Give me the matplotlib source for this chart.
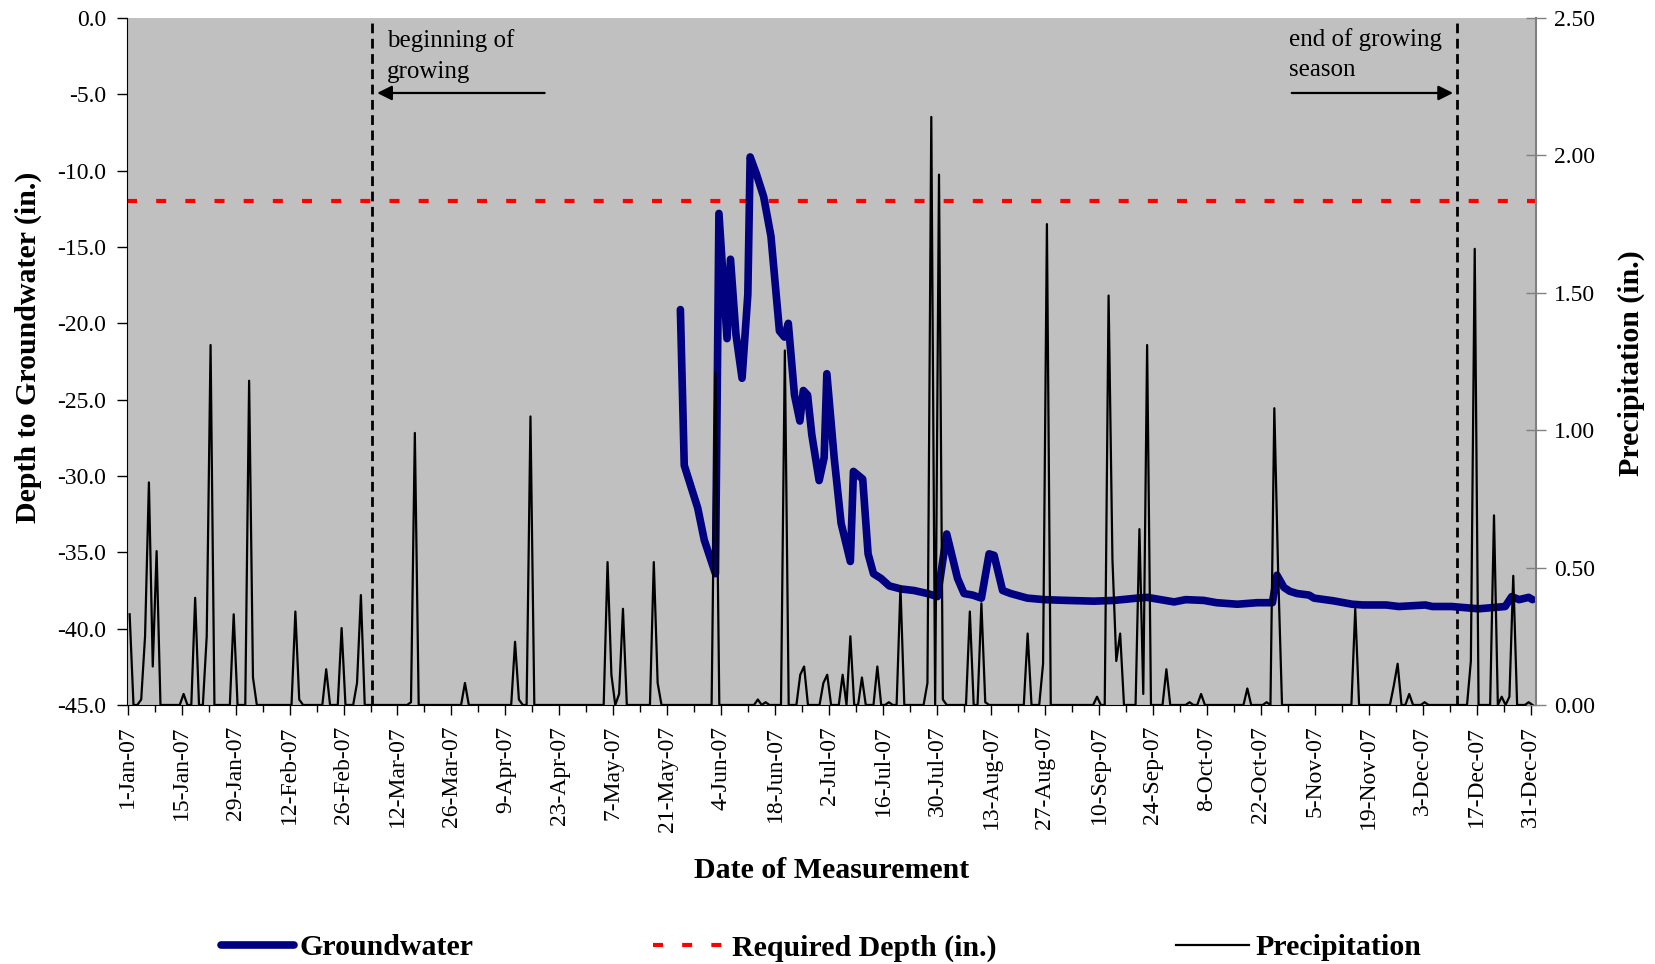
import matplotlib
matplotlib.use("Agg")
import matplotlib.pyplot as plt
from matplotlib.patches import Rectangle
import numpy as np

plt.rcParams['font.family'] = ['Liberation Serif', 'DejaVu Serif']
plt.rcParams['axes.unicode_minus'] = False

# day of year (0 = 1-Jan-07) and rainfall (in.) on days with rain
rain_day = [0, 3, 4, 5, 6, 7, 14, 17, 20, 21, 27, 31, 32, 43, 44, 51, 55, 59, 60,
            73, 74, 87, 100, 101, 104, 124, 125, 127, 128, 136, 137, 152, 163, 165,
            170, 174, 175, 180, 181, 185, 187, 190, 194, 197, 200, 207, 208, 210,
            211, 218, 221, 222, 233, 237, 238, 251, 254, 255, 256, 257, 262, 263,
            264, 269, 275, 278, 290, 295, 297, 298, 318, 328, 329, 332, 336, 348,
            349, 354, 356, 358, 359, 363]
rain_in = [0.33, 0.02, 0.25, 0.81, 0.14, 0.56, 0.04, 0.39, 0.25, 1.31, 0.33, 1.18, 0.10,
           0.34, 0.02, 0.13, 0.28, 0.08, 0.40,
           0.01, 0.99, 0.08, 0.23, 0.02, 1.05, 0.52, 0.11, 0.04, 0.35, 0.52, 0.08,
           1.21, 0.02, 0.01,
           1.29, 0.11, 0.14, 0.08, 0.11, 0.11, 0.25, 0.10, 0.14, 0.01, 0.43, 0.08,
           2.14, 1.93,
           0.02, 0.34, 0.37, 0.01, 0.26, 0.15, 1.75, 0.03, 1.49, 0.53, 0.16, 0.26,
           0.64, 0.04,
           1.31, 0.13, 0.01, 0.04, 0.06, 0.01, 1.08, 0.48, 0.35, 0.07, 0.15, 0.04,
           0.01, 0.16,
           1.66, 0.69, 0.03, 0.03, 0.47, 0.01]

# groundwater readings: day of year and depth (in.)
gw_day = [142.9, 143.9, 147.4, 149.1, 152.0, 152.9, 155.0, 155.9, 157.3, 158.9,
          160.4, 161.0, 162.6, 164.5, 166.4, 168.6, 169.9, 170.9, 172.5, 173.9,
          174.8, 175.9, 177.0, 178.9, 180.2, 180.9, 182.8, 184.6, 187.0, 187.8,
          190.2, 191.6, 193.0, 194.9, 197.1, 200.1, 203.5, 207.0, 209.6, 212.0,
          214.8, 216.5, 218.7, 221.0, 223.0, 224.3, 226.5, 228.6, 232.9, 237.3,
          243.0, 250.2, 255.4, 261.5, 264.0, 271.0, 274.0, 278.7, 282.0, 287.4,
          292.6, 296.5, 297.7, 299.5, 301.0, 302.9, 306.0, 307.3, 312.4, 317.2,
          320.0, 326.0, 329.3, 336.2, 338.0, 343.0, 350.0, 356.9, 358.6, 360.5,
          363.0, 364.0]
gw_depth = [-19.1, -29.3, -32.1, -34.2, -36.4, -12.8, -21.0, -15.8, -20.7, -23.6,
            -18.1, -9.1, -10.2, -11.7, -14.3, -20.5, -20.9, -20.0, -24.7, -26.4,
            -24.4, -24.7, -27.3, -30.3, -28.8, -23.3, -28.8, -33.1, -35.6, -29.7,
            -30.2, -35.1, -36.4, -36.7, -37.2, -37.4, -37.5, -37.7, -37.9, -33.8,
            -36.7, -37.7, -37.8, -38.0, -35.1, -35.2, -37.5, -37.7, -38.0, -38.1,
            -38.15, -38.2, -38.15, -38.0, -37.95, -38.25, -38.1, -38.15, -38.3, -38.4,
            -38.3, -38.3, -36.5, -37.3, -37.55, -37.7, -37.8, -38.0, -38.18, -38.4,
            -38.45, -38.45, -38.55, -38.45, -38.55, -38.55, -38.7, -38.55, -37.9, -38.1,
            -37.95, -38.1]

required_depth = -12.0
season_start = 63.4
season_end = 344.9

tick_days = list(range(0, 365, 14))
tick_labels = ['1-Jan-07', '15-Jan-07', '29-Jan-07', '12-Feb-07', '26-Feb-07',
               '12-Mar-07', '26-Mar-07', '9-Apr-07', '23-Apr-07', '7-May-07',
               '21-May-07', '4-Jun-07', '18-Jun-07', '2-Jul-07', '16-Jul-07',
               '30-Jul-07', '13-Aug-07', '27-Aug-07', '10-Sep-07', '24-Sep-07',
               '8-Oct-07', '22-Oct-07', '5-Nov-07', '19-Nov-07', '3-Dec-07',
               '17-Dec-07', '31-Dec-07']

days = np.arange(365)
precip = np.zeros(365)
precip[rain_day] = rain_in

fig = plt.figure(figsize=(16.55, 9.64), dpi=100)
ax = fig.add_axes([0.0767, 0.2687, 0.8514, 0.7126])
ax.set_facecolor('#C0C0C0')

ax.plot(np.array(gw_day) + 0.5, gw_depth, color='#000080', lw=5.5,
        solid_joinstyle='round', solid_capstyle='round', label='Groundwater', zorder=3)
ax.axhline(required_depth, color='#FF0000', lw=3, dashes=(2.4, 4.6),
           label='Required Depth (in.)', zorder=2)
ax.axvline(season_start, color='black', lw=2, dashes=(3.5, 2), zorder=2)
ax.axvline(season_end, color='black', lw=2, dashes=(3.5, 2), zorder=2)

ax.set_xlim(-0.2, 365.4)
ax.set_ylim(-45, 0)
ax.set_yticks(np.arange(-45, 0.1, 5))
ax.set_yticklabels(['%.1f' % v for v in np.arange(-45, 0.1, 5)])
ax.set_xticks(tick_days)
ax.set_xticklabels(tick_labels, rotation=90, va='top', ha='center')
ax.set_xticks(list(range(7, 365, 14)), minor=True)
ax.tick_params(axis='x', which='major', length=7, width=1, pad=8, labelsize=17)
ax.tick_params(axis='x', which='minor', length=5, width=1)
ax.tick_params(axis='y', length=7, width=1, pad=8, labelsize=17)
ax.spines['top'].set_visible(False)
ax.spines['right'].set_visible(False)

ax.set_xlabel('Date of Measurement', fontsize=21.5, fontweight='bold')
ax.xaxis.set_label_coords(0.5, -0.222)
ax.set_ylabel('Depth to Groundwater (in.)', fontsize=21.5, fontweight='bold')
ax.yaxis.set_label_coords(-0.060, 0.52)

# the first note is cut off just above its arrow, as in the source chart
t1 = ax.text(67.2, -0.75, 'beginning of\ngrowing', fontsize=18, va='top', ha='left',
             linespacing=1.5)
t1.set_clip_path(Rectangle((64, -4.3), 60, 4.3, transform=ax.transData))
ax.annotate('', xy=(season_start + 0.6, -4.91), xytext=(108.9, -4.91),
            arrowprops=dict(arrowstyle='-|>', color='black', lw=1.6, mutation_scale=22))
ax.text(301.3, -0.65, 'end of growing\nseason', fontsize=18, va='top', ha='left',
        linespacing=1.5)
ax.annotate('', xy=(season_end - 0.3, -4.91), xytext=(301.3, -4.91),
            arrowprops=dict(arrowstyle='-|>', color='black', lw=1.6, mutation_scale=22))

ax2 = ax.twinx()
ax2.plot(days + 0.5, precip, color='black', lw=1.6, label='Precipitation', zorder=4)
ax2.set_ylim(0, 2.5)
ax2.set_yticks(np.arange(0, 2.51, 0.5))
ax2.set_yticklabels(['%.2f' % v for v in np.arange(0, 2.51, 0.5)])
ax2.tick_params(axis='y', direction='inout', length=14, width=1, pad=6,
                labelsize=17, color='#808080')
for s in ['top', 'left', 'bottom']:
    ax2.spines[s].set_visible(False)
ax2.spines['right'].set_color('#808080')
ax2.spines['right'].set_linewidth(1.5)
ax2.set_ylabel('Precipitation (in.)', fontsize=21.5, fontweight='bold')
ax2.yaxis.set_label_coords(1.058, 0.498)

h1, l1 = ax.get_legend_handles_labels()
h2, l2 = ax2.get_legend_handles_labels()
leg = fig.legend(h1 + h2, l1 + l2, loc='center', bbox_to_anchor=(0.496, 0.0165),
                 ncol=3, frameon=False, handlelength=2.45, handletextpad=0.2,
                 columnspacing=6.0, prop={'size': 21.5, 'weight': 'bold'})

fig.savefig('out.png', dpi=100)
